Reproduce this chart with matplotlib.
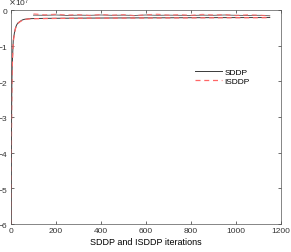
import matplotlib
matplotlib.use('Agg')
import matplotlib.pyplot as plt

plt.rcParams['font.family'] = ['Liberation Sans', 'DejaVu Sans']

# lower bounds (both algorithms)
lb_iter = [0, 1, 2, 3, 4, 5, 7, 10, 15, 20, 25, 30, 40, 50, 60, 80, 100,
           150, 200, 300, 400, 500, 600, 700, 800, 900, 1000, 1100, 1150]
sddp_lb = [-6.0e7, -4.8e7, -3.5e7, -2.6e7, -2.0e7, -1.6e7, -1.3e7, -0.85e7,
           -0.65e7, -0.5e7, -0.42e7, -0.37e7, -0.32e7, -0.28e7, -0.26e7,
           -0.245e7, -0.24e7, -0.235e7, -0.232e7, -0.228e7, -0.225e7,
           -0.222e7, -0.22e7, -0.218e7, -0.216e7, -0.214e7, -0.213e7,
           -0.212e7, -0.211e7]
isddp_lb = [-6.0e7, -4.9e7, -3.6e7, -2.7e7, -2.1e7, -1.7e7, -1.35e7, -0.9e7,
            -0.68e7, -0.52e7, -0.44e7, -0.38e7, -0.33e7, -0.29e7, -0.27e7,
            -0.25e7, -0.245e7, -0.24e7, -0.236e7, -0.232e7, -0.229e7,
            -0.226e7, -0.224e7, -0.222e7, -0.22e7, -0.218e7, -0.217e7,
            -0.216e7, -0.215e7]

# upper bounds (statistical), every 50 iterations
ub_iter = [100, 150, 200, 250, 300, 350, 400, 450, 500, 550, 600, 650, 700,
           750, 800, 850, 900, 950, 1000, 1050, 1100, 1150]
sddp_ub = [-1.45e6, -1.5e6, -1.4e6, -1.55e6, -1.45e6, -1.5e6, -1.4e6,
           -1.5e6, -1.45e6, -1.55e6, -1.4e6, -1.5e6, -1.45e6, -1.5e6,
           -1.55e6, -1.45e6, -1.5e6, -1.4e6, -1.5e6, -1.55e6, -1.5e6, -1.6e6]
isddp_ub = [-1.1e6, -1.35e6, -1.2e6, -1.4e6, -1.3e6, -1.55e6, -1.25e6,
            -1.45e6, -1.3e6, -1.6e6, -1.35e6, -1.2e6, -1.45e6, -1.3e6,
            -1.5e6, -1.25e6, -1.4e6, -1.3e6, -1.55e6, -1.35e6, -1.45e6, -1.65e6]

yticks = [-6e7, -5e7, -4e7, -3e7, -2e7, -1e7, 0]
xticks = [0, 200, 400, 600, 800, 1000, 1200]


def main():
    fig = plt.figure(figsize=(2.91, 2.53), dpi=100)
    ax = fig.add_axes([11 / 291, 1 - 225 / 253, 270 / 291, 214 / 253])

    black = '#3a3a3a'
    red = '#ff6666'
    ax.plot(lb_iter, sddp_lb, color=black, lw=0.7, label='SDDP')
    ax.plot(ub_iter, sddp_ub, color=black, lw=0.7, alpha=0.75)
    ax.plot(lb_iter, isddp_lb, color=red, lw=0.9, ls=(0, (4, 3)), label='ISDDP')
    ax.plot(ub_iter, isddp_ub, color=red, lw=0.9, ls=(0, (4, 3)), alpha=0.8)

    ax.set_xlim(0, 1200)
    ax.set_ylim(-6e7, 0)
    ax.set_xticks(xticks)
    ax.set_yticks(yticks)
    ax.ticklabel_format(style='sci', axis='y', scilimits=(0, 0), useMathText=True)
    off = ax.yaxis.get_offset_text()
    off.set_fontsize(6)
    off.set_x(-0.01)
    ax.tick_params(direction='in', length=2, width=0.5, labelsize=6,
                   top=True, right=True, pad=2, colors='#333333')
    for s in ax.spines.values():
        s.set_linewidth(0.5)
        s.set_color('#555555')
    ax.set_xlabel('SDDP and ISDDP iterations', fontsize=6.5, labelpad=2)

    ax.legend(loc='upper left', bbox_to_anchor=(0.655, 0.765), frameon=False,
              fontsize=6, handlelength=3.2, handletextpad=0.3, labelspacing=0.2)

    fig.savefig('out.png', dpi=100)


if __name__ == "__main__":
    main()
